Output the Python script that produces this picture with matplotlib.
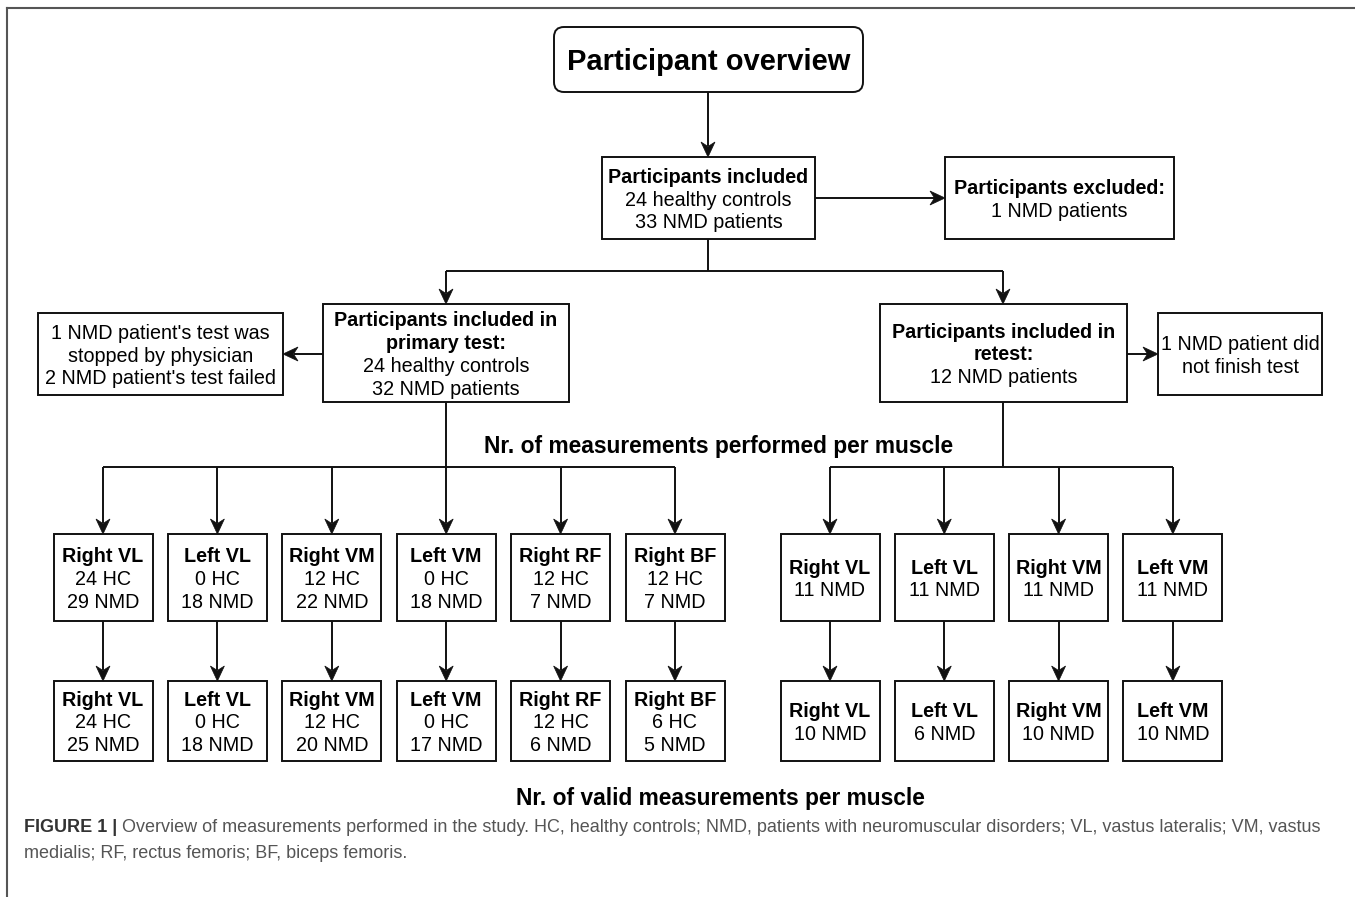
import numpy as np
import matplotlib
matplotlib.use('Agg')
import matplotlib.pyplot as plt
import matplotlib.patches as patches

plt.rcParams['font.family'] = ['Liberation Sans', 'DejaVu Sans']

# ---- data ----
included_hc = 24
included_nmd = 33
excluded_nmd = 1
primary_hc = 24
primary_nmd = 32
stopped_nmd = 1
failed_nmd = 2
retest_nmd = 12
retest_unfinished = 1

primary_muscles = ['Right VL', 'Left VL', 'Right VM', 'Left VM', 'Right RF', 'Right BF']
performed_hc = [24, 0, 12, 0, 12, 12]
performed_nmd = [29, 18, 22, 18, 7, 7]
valid_hc = [24, 0, 12, 0, 12, 6]
valid_nmd = [25, 18, 20, 17, 6, 5]

retest_muscles = ['Right VL', 'Left VL', 'Right VM', 'Left VM']
retest_performed_nmd = [11, 11, 11, 11]
retest_valid_nmd = [10, 6, 10, 10]

W, H = 1355, 897
FS = 14.2
LINE = 22.7
EDGE = '#111111'


def box(ax, x0, y0, x1, y1, lines, rounded=False, fs=FS):
    if rounded:
        p = patches.FancyBboxPatch((x0, y0), x1 - x0, y1 - y0,
                                   boxstyle='round,pad=0,rounding_size=10',
                                   linewidth=1.4, edgecolor=EDGE, facecolor='white')
    else:
        p = patches.Rectangle((x0, y0), x1 - x0, y1 - y0,
                              linewidth=1.4, edgecolor=EDGE, facecolor='white')
    ax.add_patch(p)
    cx = (x0 + x1) / 2
    cy = (y0 + y1) / 2
    n = len(lines)
    for i, (txt, bold) in enumerate(lines):
        y = cy + (i - (n - 1) / 2) * LINE
        ax.text(cx, y, txt, ha='center', va='center_baseline', fontsize=fs,
                fontweight='bold' if bold else 'normal', color='black')


def arrow(ax, x0, y0, x1, y1):
    # line plus a notched arrow head at (x1, y1)
    d = np.array([x1 - x0, y1 - y0], dtype=float)
    d /= np.hypot(*d)
    n = np.array([-d[1], d[0]])
    hl, hw, notch = 15, 7, 4.5
    tip = np.array([x1, y1], dtype=float)
    base = tip - d * hl
    ax.plot([x0, base[0] + d[0] * notch], [y0, base[1] + d[1] * notch],
            color=EDGE, linewidth=1.4, solid_capstyle='butt')
    head = [tip, base + n * hw, base + d * notch, base - n * hw]
    ax.add_patch(patches.Polygon(head, closed=True, facecolor=EDGE,
                                 edgecolor=EDGE, linewidth=0.5))


def seg(ax, xs, ys):
    ax.plot(xs, ys, color=EDGE, linewidth=1.4, solid_capstyle='butt')


fig = plt.figure(figsize=(W / 100, H / 100), dpi=100)
ax = fig.add_axes([0, 0, 1, 1])
ax.set_xlim(0, W)
ax.set_ylim(H, 0)
ax.axis('off')

# frame
ax.plot([6.5, W], [8.5, 8.5], color='#555555', linewidth=1.5)
ax.plot([6.5, 6.5], [8.5, H], color='#555555', linewidth=1.5)

# top
box(ax, 554, 27, 863, 92, [('Participant overview', True)], rounded=True, fs=21)
arrow(ax, 708, 92, 708, 157)

box(ax, 602, 157, 815, 239, [('Participants included', True),
                             (f'{included_hc} healthy controls', False),
                             (f'{included_nmd} NMD patients', False)])
arrow(ax, 815, 198, 945, 198)
box(ax, 945, 157, 1174, 239, [('Participants excluded:', True),
                              (f'{excluded_nmd} NMD patients', False)])

# split into primary test / retest
seg(ax, [708, 708], [239, 271])
seg(ax, [446, 1003], [271, 271])
arrow(ax, 446, 271, 446, 304)
arrow(ax, 1003, 271, 1003, 304)

box(ax, 323, 304, 569, 402, [('Participants included in', True),
                             ('primary test:', True),
                             (f'{primary_hc} healthy controls', False),
                             (f'{primary_nmd} NMD patients', False)])
arrow(ax, 323, 354, 283, 354)
box(ax, 38, 313, 283, 395, [(f"{stopped_nmd} NMD patient's test was", False),
                            ('stopped by physician', False),
                            (f"{failed_nmd} NMD patient's test failed", False)])

box(ax, 880, 304, 1127, 402, [('Participants included in', True),
                              ('retest:', True),
                              (f'{retest_nmd} NMD patients', False)])
arrow(ax, 1127, 354, 1158, 354)
box(ax, 1158, 313, 1322, 395, [(f'{retest_unfinished} NMD patient did', False),
                               ('not finish test', False)])

ax.text(719, 444, 'Nr. of measurements performed per muscle', ha='center',
        va='center_baseline', fontsize=16.4, fontweight='bold')

# muscle rows
bw = 99
row1 = (534, 621)
row2 = (681, 761)
px = 103 + 114.4 * np.arange(len(primary_muscles))
rx = 830 + 114.3 * np.arange(len(retest_muscles))

seg(ax, [446, 446], [402, 467])
seg(ax, [px[0], px[-1]], [467, 467])
for i, m in enumerate(primary_muscles):
    x = px[i]
    arrow(ax, x, 467, x, row1[0])
    box(ax, x - bw / 2, row1[0], x + bw / 2, row1[1],
        [(m, True), (f'{performed_hc[i]} HC', False), (f'{performed_nmd[i]} NMD', False)])
    arrow(ax, x, row1[1], x, row2[0])
    box(ax, x - bw / 2, row2[0], x + bw / 2, row2[1],
        [(m, True), (f'{valid_hc[i]} HC', False), (f'{valid_nmd[i]} NMD', False)])

seg(ax, [1003, 1003], [402, 467])
seg(ax, [rx[0], rx[-1]], [467, 467])
for i, m in enumerate(retest_muscles):
    x = rx[i]
    arrow(ax, x, 467, x, row1[0])
    box(ax, x - bw / 2, row1[0], x + bw / 2, row1[1],
        [(m, True), (f'{retest_performed_nmd[i]} NMD', False)])
    arrow(ax, x, row1[1], x, row2[0])
    box(ax, x - bw / 2, row2[0], x + bw / 2, row2[1],
        [(m, True), (f'{retest_valid_nmd[i]} NMD', False)])

ax.text(720, 796, 'Nr. of valid measurements per muscle', ha='center',
        va='center_baseline', fontsize=16.4, fontweight='bold')

# caption
cap = ax.text(24, 826, 'FIGURE 1 |', ha='left', va='center_baseline',
              fontsize=13, fontweight='bold', color='#333333')
ax.annotate(' Overview of measurements performed in the study. HC, healthy controls; '
            'NMD, patients with neuromuscular disorders; VL, vastus lateralis; VM, vastus',
            xy=(1, 0), xycoords=cap, ha='left', va='bottom',
            fontsize=13, color='#555555')
ax.text(24, 851, 'medialis; RF, rectus femoris; BF, biceps femoris.', ha='left',
        va='center_baseline', fontsize=13, color='#555555')

fig.savefig('out.png', dpi=100)
